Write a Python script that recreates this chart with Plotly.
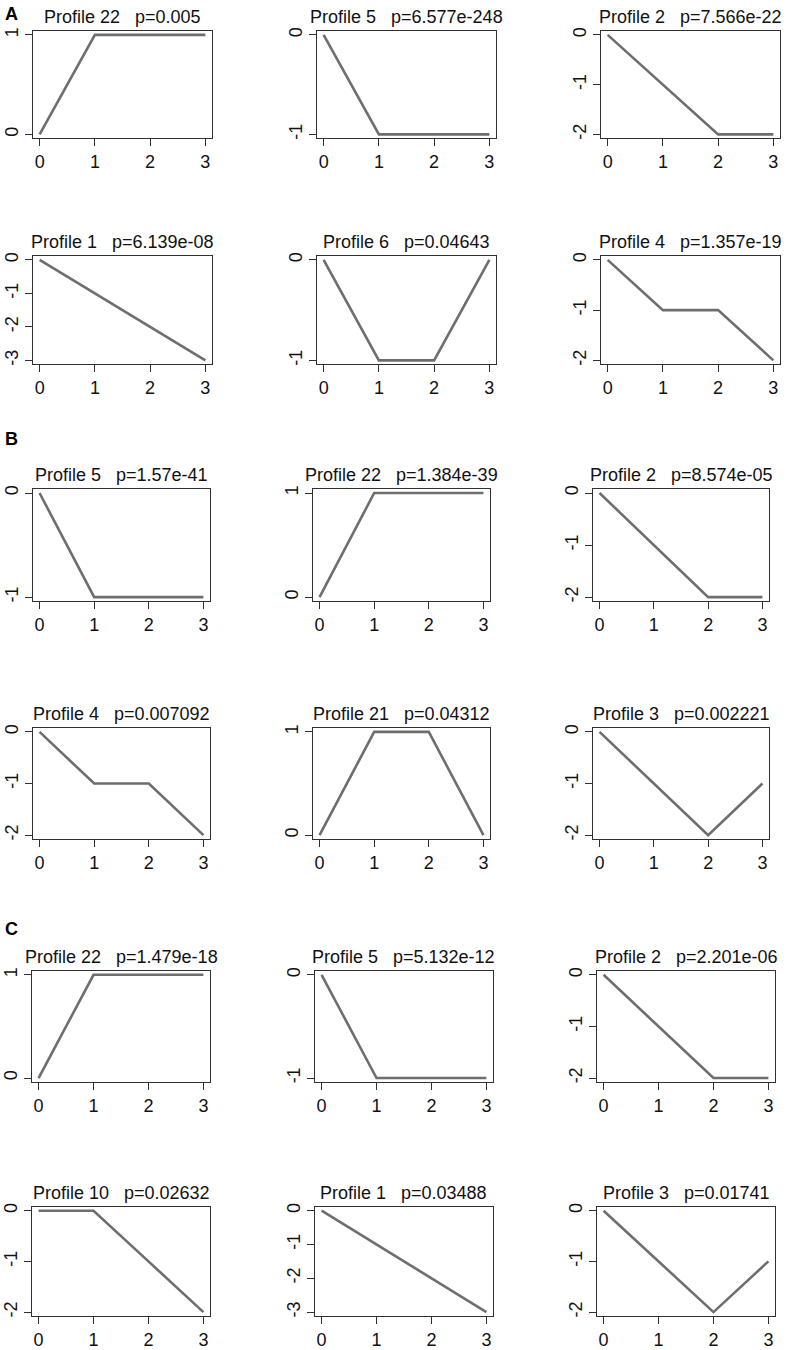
import plotly.graph_objects as go

# time points shared by every profile
time_points = [0, 1, 2, 3]

# model profiles (STEM-style), value at each time point
profile_1 = [0, -1, -2, -3]
profile_2 = [0, -1, -2, -2]
profile_3 = [0, -1, -2, -1]
profile_4 = [0, -1, -1, -2]
profile_5 = [0, -1, -1, -1]
profile_6 = [0, -1, -1, 0]
profile_10 = [0, 0, -1, -2]
profile_21 = [0, 1, 1, 0]
profile_22 = [0, 1, 1, 1]

profiles = {1: profile_1, 2: profile_2, 3: profile_3, 4: profile_4, 5: profile_5,
            6: profile_6, 10: profile_10, 21: profile_21, 22: profile_22}

# panels of each section, in reading order
section_labels = ["A", "B", "C"]
section_a_ids = [22, 5, 2, 1, 6, 4]
section_a_pvals = ["0.005", "6.577e-248", "7.566e-22", "6.139e-08", "0.04643", "1.357e-19"]
section_b_ids = [5, 22, 2, 4, 21, 3]
section_b_pvals = ["1.57e-41", "1.384e-39", "8.574e-05", "0.007092", "0.04312", "0.002221"]
section_c_ids = [22, 5, 2, 10, 1, 3]
section_c_pvals = ["1.479e-18", "5.132e-12", "2.201e-06", "0.02632", "0.03488", "0.01741"]

W, H = 790, 1350

# pixel boxes of the panels (left/right per section column, top/bottom per row)
col_px = [
    [(33, 212), (317, 496), (601, 780)],
    [(33, 210), (313, 490), (593, 769)],
    [(32, 210), (315, 493), (597, 775)],
]
row_px = [[(27, 135), (253, 362)], [(487, 600), (727, 839)], [(971, 1083), (1208, 1318)]]
label_px = [(3, 10), (3, 437), (3, 929)]

LINE_COL = "#6e6e6e"
FRAME_COL = "#303030"
FONT = "Liberation Sans, Arial, sans-serif"
GAP = "\u00a0\u00a0\u00a0"

fig = go.Figure()
layout = {}
annotations = []

sections = [
    (section_a_ids, section_a_pvals),
    (section_b_ids, section_b_pvals),
    (section_c_ids, section_c_pvals),
]

k = 0
for s, (ids, pvals) in enumerate(sections):
    for i, (pid, pv) in enumerate(zip(ids, pvals)):
        k += 1
        r, c = divmod(i, 3)
        x0, x1 = col_px[s][c]
        y0, y1 = row_px[s][r]
        vals = profiles[pid]
        xn = "x" if k == 1 else "x%d" % k
        yn = "y" if k == 1 else "y%d" % k

        fig.add_trace(go.Scatter(
            x=time_points, y=vals, mode="lines", xaxis=xn, yaxis=yn,
            line=dict(color=LINE_COL, width=2.6), showlegend=False,
        ))

        lo, hi = min(vals), max(vals)
        pad = 0.04 * (hi - lo)
        yticks = list(range(lo, hi + 1))
        axis_common = dict(
            showgrid=False, zeroline=False, showline=True, mirror=True,
            linecolor=FRAME_COL, linewidth=1, ticks="outside", ticklen=7,
            tickwidth=1, tickcolor=FRAME_COL,
            tickfont=dict(family=FONT, size=18, color="#111"),
        )
        layout["xaxis" if k == 1 else "xaxis%d" % k] = dict(
            axis_common, domain=[x0 / W, x1 / W], anchor=yn,
            range=[-0.12, 3.12], tickvals=time_points,
        )
        layout["yaxis" if k == 1 else "yaxis%d" % k] = dict(
            axis_common, domain=[1 - y1 / H, 1 - y0 / H], anchor=xn,
            range=[lo - pad, hi + pad], tickvals=yticks,
            ticktext=[str(v) for v in yticks], tickangle=-90,
        )

        annotations.append(dict(
            xref="paper", yref="paper", x=(x0 + x1) / 2 / W, y=1 - y0 / H,
            xanchor="center", yanchor="bottom", yshift=2, showarrow=False,
            text="Profile %d%sp=%s" % (pid, GAP, pv),
            font=dict(family=FONT, size=18, color="#111"),
        ))

for lab, (lx, ly) in zip(section_labels, label_px):
    annotations.append(dict(
        xref="paper", yref="paper", x=lx / W, y=1 - ly / H,
        xanchor="left", yanchor="middle", showarrow=False,
        text="<b>%s</b>" % lab, font=dict(family=FONT, size=18, color="#000"),
    ))

fig.update_layout(
    width=W, height=H, margin=dict(l=0, r=0, t=0, b=0),
    paper_bgcolor="white", plot_bgcolor="white",
    annotations=annotations, **layout,
)

# drop the page's default body margin so the figure sits at the window corner
fig.write_html("out.html", config={"displayModeBar": False},
               post_script="document.body.style.margin='0px';")
